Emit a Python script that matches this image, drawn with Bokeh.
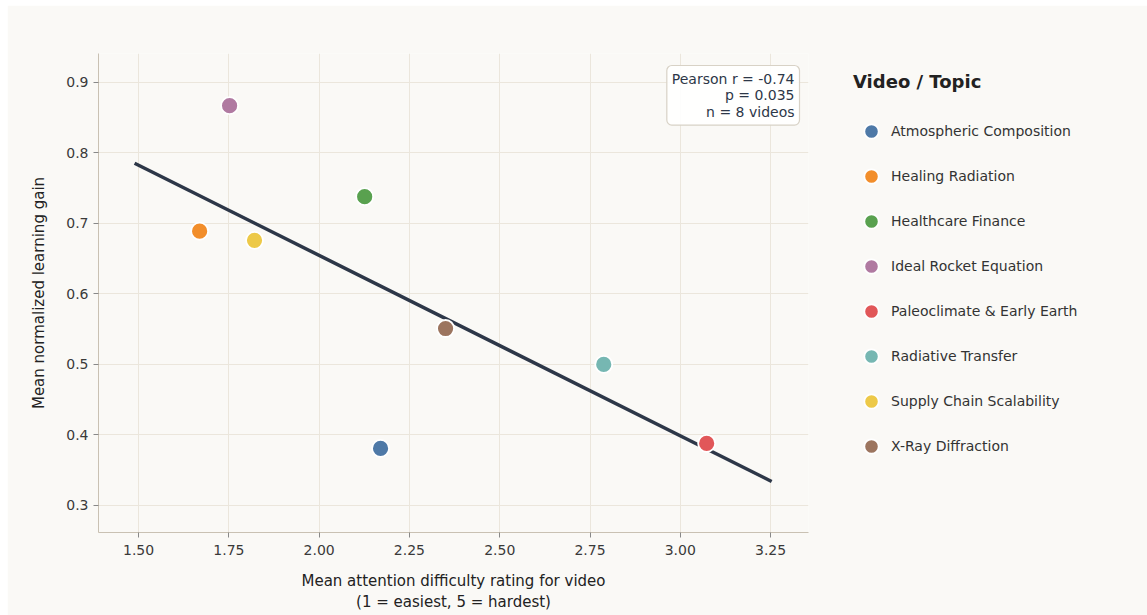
import numpy as np
from bokeh.plotting import figure
from bokeh.layouts import column, row
from bokeh.models import (Legend, LegendItem, Label, FixedTicker, Spacer,
                          NumeralTickFormatter, Range1d)
from bokeh.embed import file_html
from bokeh.resources import INLINE

topics = ["Atmospheric Composition", "Healing Radiation", "Healthcare Finance",
          "Ideal Rocket Equation", "Paleoclimate & Early Earth", "Radiative Transfer",
          "Supply Chain Scalability", "X-Ray Diffraction"]
difficulty = [2.170, 1.669, 2.126, 1.752, 3.073, 2.788, 1.821, 2.350]
gain = [0.381, 0.689, 0.738, 0.867, 0.388, 0.500, 0.676, 0.551]
colors = ["#4e79a7", "#f28e2b", "#59a14f", "#b07aa1", "#e15759", "#76b7b2", "#edc948", "#9c755f"]
x_ticks = [1.50, 1.75, 2.00, 2.25, 2.50, 2.75, 3.00, 3.25]
y_ticks = [0.3, 0.4, 0.5, 0.6, 0.7, 0.8, 0.9]
stats_text = "Pearson r = -0.74\np = 0.035\nn = 8 videos"

FONT = "DejaVu Sans"
BG = "#faf9f6"

p = figure(frame_width=710, frame_height=479, output_backend="svg", toolbar_location=None,
           x_range=Range1d(1.389, 3.355), y_range=Range1d(0.2617, 0.941),
           min_border_left=91, min_border_top=48, min_border_bottom=83, min_border_right=339)
p.background_fill_color = BG
p.border_fill_color = BG
p.outline_line_color = None

# regression line
xs = np.array(difficulty)
ys = np.array(gain)
slope, intercept = np.polyfit(xs, ys, 1)
ext = 0.18
lx = np.array([xs.min() - ext, xs.max() + ext])
p.line(lx, slope * lx + intercept, line_color="#2d3748", line_width=3.5)

items = []
for t, xv, yv, c in zip(topics, difficulty, gain, colors):
    r = p.scatter([xv], [yv], size=17, fill_color=c, line_color="white", line_width=1.8)
    items.append(LegendItem(label=t, renderers=[r]))

legend = Legend(items=items, title="Video / Topic", location=(45, 68))
legend.title_text_font = FONT
legend.title_text_font_size = "18px"
legend.title_text_font_style = "bold"
legend.title_text_color = "#222222"
legend.title_standoff = 21
legend.label_text_font = FONT
legend.label_text_font_size = "14px"
legend.label_text_color = "#333333"
legend.glyph_width = 36
legend.glyph_height = 36
legend.label_height = 34
legend.spacing = 9
legend.label_standoff = 2
legend.padding = 0
legend.margin = 0
legend.border_line_alpha = 0
legend.background_fill_alpha = 0
p.add_layout(legend, "right")

# axes
for ax in (p.xaxis, p.yaxis):
    ax.axis_line_color = "#c9c1b3"
    ax.major_tick_line_color = "#888888"
    ax.minor_tick_line_color = None
    ax.major_tick_out = 5
    ax.major_tick_in = 0
    ax.major_label_text_font = FONT
    ax.major_label_text_font_size = "14px"
    ax.major_label_text_color = "#3a3a3a"
    ax.axis_label_text_font = FONT
    ax.axis_label_text_font_size = "15px"
    ax.axis_label_text_color = "#222222"
    ax.axis_label_text_font_style = "normal"

p.xaxis.ticker = FixedTicker(ticks=x_ticks)
p.xaxis.formatter = NumeralTickFormatter(format="0.00")
p.yaxis.ticker = FixedTicker(ticks=y_ticks)
p.yaxis.formatter = NumeralTickFormatter(format="0.0")
p.xaxis.axis_label = "Mean attention difficulty rating for video\n(1 = easiest, 5 = hardest)"
p.yaxis.axis_label = "Mean normalized learning gain"
p.xaxis.major_label_standoff = 7
p.xaxis.axis_label_standoff = 14
p.yaxis.axis_label_standoff = 15

p.xgrid.grid_line_color = "#ebe6dc"
p.ygrid.grid_line_color = "#ebe6dc"
p.xgrid.ticker = FixedTicker(ticks=x_ticks)
p.ygrid.ticker = FixedTicker(ticks=y_ticks)

stats = Label(x=701, y=467, x_units="screen", y_units="screen", text=stats_text,
              text_align="right", text_baseline="top", text_font=FONT,
              text_font_size="14px", text_color="#2d3748", text_line_height=1.05,
              background_fill_color="white", background_fill_alpha=0.9,
              border_line_color="#d8d2c6", border_line_width=1.2,
              padding=5, border_radius=5)
p.add_layout(stats)

layout = column(Spacer(height=5, width=1147), row(Spacer(width=7, height=10), p))

open("out.html", "w").write(file_html(layout, INLINE))
